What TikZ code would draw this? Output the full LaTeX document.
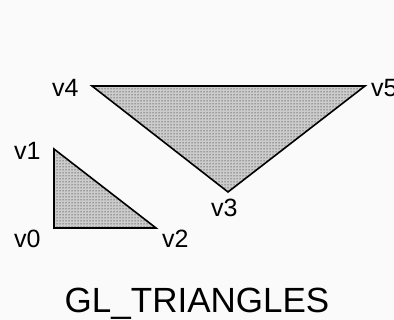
\documentclass[tikz,border=0pt]{standalone}
\usepackage{fontspec}
\setmainfont{Liberation Sans}
\usetikzlibrary{patterns}
\begin{document}
\begin{tikzpicture}[x=1pt,y=1pt,
  lbl/.style={anchor=base west,inner sep=0pt,font=\fontsize{25}{26}\selectfont},
  tri/.style={draw=black,line width=1.6pt,line join=miter,pattern=dots,pattern color=black}]
\fill[gray!4] (0,0) rectangle (394,320);
\useasboundingbox (0,0) rectangle (394,320);
\coordinate (v0) at (54,92);
\coordinate (v1) at (54,171);
\coordinate (v2) at (156,92);
\coordinate (v3) at (228,128);
\coordinate (v4) at (92,234);
\coordinate (v5) at (365,234);
\fill[gray!40] (v0) -- (v1) -- (v2) -- cycle;
\fill[gray!40] (v3) -- (v4) -- (v5) -- cycle;
\path[tri] (v0) -- (v1) -- (v2) -- cycle;
\path[tri] (v3) -- (v4) -- (v5) -- cycle;
\node[lbl] (l0) at (14,72) {v0};
\node[lbl] (l1) at (14,160) {v1};
\node[lbl] (l2) at (162,72) {v2};
\node[lbl] (l3) at (211,103) {v3};
\node[lbl] (l4) at (52,223) {v4};
\node[lbl] (l5) at (371,223) {v5};
\node[anchor=base,inner sep=0pt,font=\fontsize{35}{36}\selectfont] (title) at (197,7) {GL\_TRIANGLES};
\end{tikzpicture}
\end{document}
